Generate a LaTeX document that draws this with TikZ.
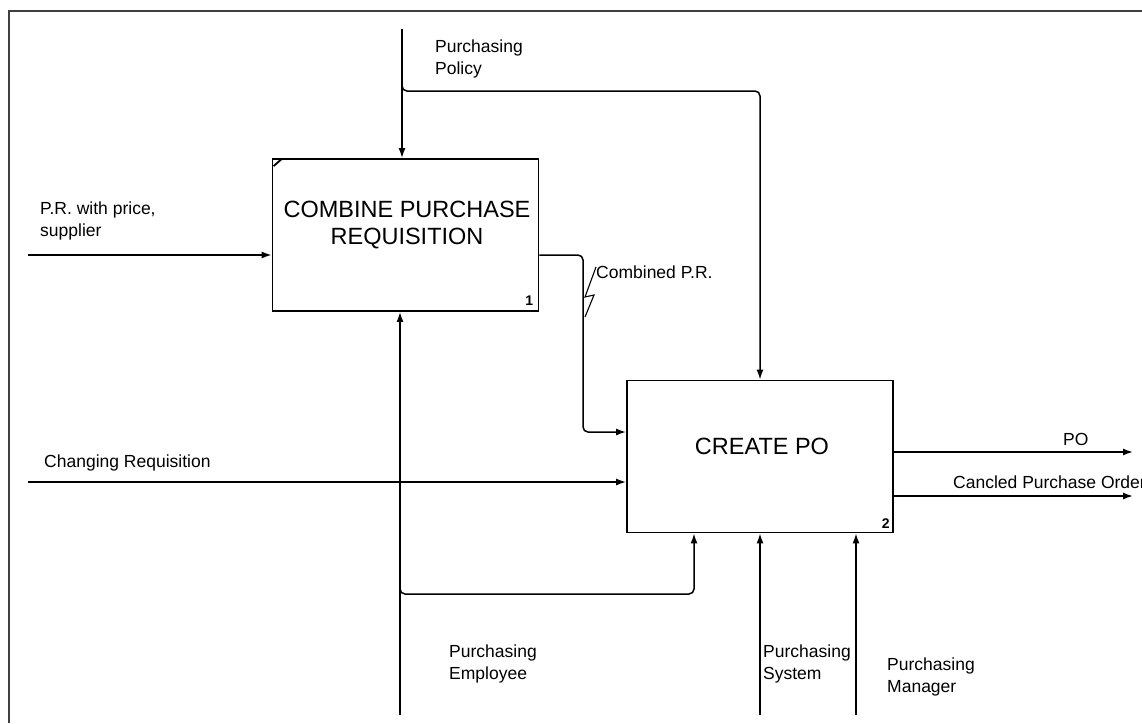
\documentclass[tikz,border=0pt]{standalone}
\usepackage{fontspec}
\setmainfont{Liberation Sans}
\usetikzlibrary{arrows.meta,calc}

\begin{document}
\begin{tikzpicture}[x=1pt, y=-1pt,
		func/.style={rectangle, draw, line width=1.8pt, minimum width=266pt, minimum height=152pt},
		title/.style={align=center, inner sep=0pt, font=\fontsize{23.5}{27}\selectfont},
		num/.style={inner sep=0pt, anchor=south east, font=\fontsize{14}{14}\selectfont\bfseries},
		lbl/.style={align=left, inner sep=0pt, anchor=base west, font=\fontsize{17.5}{22}\selectfont},
		flow/.style={line width=1.5pt, -{Latex[length=10pt, width=7pt]}}]

		\useasboundingbox (0,0) rectangle (1142,723);
		\draw[line width=2pt, black!75] (9,723) -- (9,11) -- (1142,11);

		\node[func] (1) at (405.5,235) {};
		\node[func] (2) at (760,456.5) {};
		\node[title] (t1) at (407,225) {COMBINE PURCHASE\\REQUISITION};
		\node[title] (t2) at (762,446.5) {CREATE PO};
		\node[num] (n1) at ($(1.south east)+(-6,-6)$) {1};
		\node[num] (n2) at ($(2.south east)+(-4,-5)$) {2};
		\draw[line width=1.8pt] ($(1.north west)+(2,8)$) -- ($(1.north west)+(10,1)$);

		\coordinate (prIn) at (28,255);
		\coordinate (chIn) at (28,482);
		\coordinate (polTop) at (402,29);
		\coordinate (polBr) at (402,91);
		\coordinate (cprBend) at (583,432);
		\coordinate (empBot) at (400,715);
		\coordinate (empBr) at (400,594);
		\coordinate (empUp) at (694,594);
		\coordinate (sysBot) at (760,715);
		\coordinate (mgrBot) at (856,715);
		\coordinate (poOut) at (1133,452);
		\coordinate (cpoOut) at (1133,496);

		\draw[flow] (prIn) -- (prIn -| 1.west);
		\draw[flow] (chIn) -- (chIn -| 2.west);
		\draw[flow] (polTop) -- (polTop |- 1.north);
		\draw[flow, rounded corners=5pt] ($(polBr)+(0,-7)$) -- (polBr) -- (polBr -| 2.north) -- (2.north);
		\draw[flow, rounded corners=5pt] (prIn -| 1.east) -- (prIn -| cprBend) -- (cprBend) -- (cprBend -| 2.west);
		\draw[line width=1.1pt] (596,267) -- (585,297) -- (594,295) -- (585,317);
		\draw[flow] (poOut -| 2.east) -- (poOut);
		\draw[flow] (cpoOut -| 2.east) -- (cpoOut);
		\draw[flow] (empBot) -- (empBot |- 1.south);
		\draw[flow, rounded corners=5pt] ($(empBr)+(0,-7)$) -- (empBr) -- (empUp) -- (empUp |- 2.south);
		\draw[flow] (sysBot) -- (sysBot |- 2.south);
		\draw[flow] (mgrBot) -- (mgrBot |- 2.south);

		\node[lbl] (pr) at (40,236) {P.R. with price,\\supplier};
		\node[lbl] (ch) at (44,467) {Changing Requisition};
		\node[lbl] (pol) at (435,74) {Purchasing\\Policy};
		\node[lbl] (cpr) at (596,278) {Combined P.R.};
		\node[lbl] (po) at (1063,445) {PO};
		\node[lbl] (cpo) at (953,488) {Cancled Purchase Order};
		\node[lbl] (emp) at (449,679) {Purchasing\\Employee};
		\node[lbl] (sys) at (763,679) {Purchasing\\System};
		\node[lbl] (mgr) at (887,692) {Purchasing\\Manager};
	\end{tikzpicture}
\end{document}
